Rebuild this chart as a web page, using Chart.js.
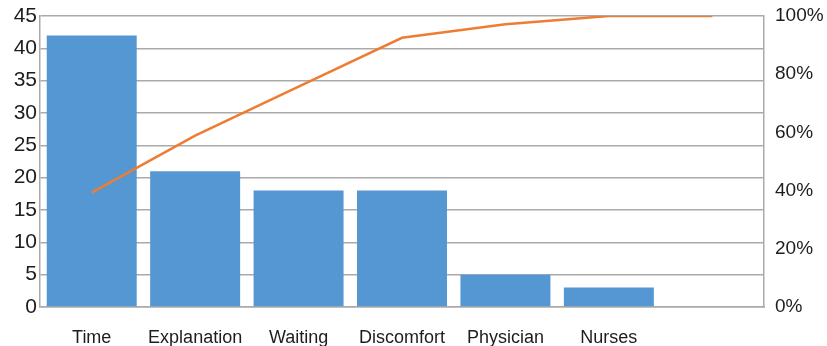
<!DOCTYPE html>
<html>
<head>
<meta charset="utf-8">
<script src="https://cdn.jsdelivr.net/npm/chart.js@4"></script>
<style>
  html, body { margin: 0; padding: 0; background: #ffffff; }
  #wrap { width: 827px; height: 346px; }
</style>
</head>
<body>
<div id="wrap"><canvas id="chart" width="827" height="346"></canvas></div>
<script>
// Complaint categories (last slot is the empty closing position of the Pareto line)
const categories = ['Time', 'Explanation', 'Waiting', 'Discomfort', 'Physician', 'Nurses', ''];
// Number of complaints per category
const counts = [42, 21, 18, 18, 5, 3, null];
// Cumulative share of complaints, in percent
const cumulativePercent = [39.3, 58.9, 75.7, 92.5, 97.2, 100, 100];
// Axis tick settings
const countMax = 45, countStep = 5;
const percentMax = 100, percentStep = 20;

const FONT = "'Liberation Sans', Arial, Helvetica, sans-serif";
const TEXT = '#1e1c1d';
const GRID = '#aaaaaa';

// Fixed-size vertical axis: ignore the label overflow padding above and below
function fixVertical(width) {
  return function (scale) {
    scale.width = width;
    scale.paddingTop = 0;
    scale.paddingBottom = 0;
  };
}

new Chart(document.getElementById('chart'), {
  data: {
    labels: categories,
    datasets: [
      {
        type: 'line',
        data: cumulativePercent,
        yAxisID: 'y2',
        borderColor: '#ee7d33',
        borderWidth: 2.5,
        pointRadius: 0,
        tension: 0,
        order: 0
      },
      {
        type: 'bar',
        data: counts,
        yAxisID: 'y',
        backgroundColor: '#5597d3',
        borderWidth: 0,
        categoryPercentage: 0.87,
        barPercentage: 1,
        order: 1
      }
    ]
  },
  options: {
    responsive: false,
    animation: false,
    layout: { padding: { top: 16, left: 0, right: 0, bottom: 0 } },
    plugins: { legend: { display: false }, tooltip: { enabled: false } },
    scales: {
      x: {
        grid: { display: false },
        border: { display: true, color: GRID, width: 1.5 },
        ticks: { color: TEXT, font: { family: FONT, size: 18 }, padding: 12, maxRotation: 0 },
        afterFit(scale) { scale.height = 39; }
      },
      y: {
        position: 'left',
        min: 0,
        max: countMax,
        ticks: { stepSize: countStep, color: TEXT, font: { family: FONT, size: 21 }, padding: 3 },
        grid: { color: GRID, lineWidth: 1.5, drawTicks: false },
        border: { display: true, color: GRID, width: 1.5 },
        afterFit: fixVertical(40)
      },
      y2: {
        position: 'right',
        min: 0,
        max: percentMax,
        ticks: {
          stepSize: percentStep,
          color: TEXT,
          font: { family: FONT, size: 19 },
          padding: 11,
          callback: (v) => v + '%'
        },
        grid: { drawOnChartArea: false, drawTicks: false },
        border: { display: true, color: GRID, width: 1.5 },
        afterFit: fixVertical(63)
      }
    }
  }
});
</script>
</body>
</html>
